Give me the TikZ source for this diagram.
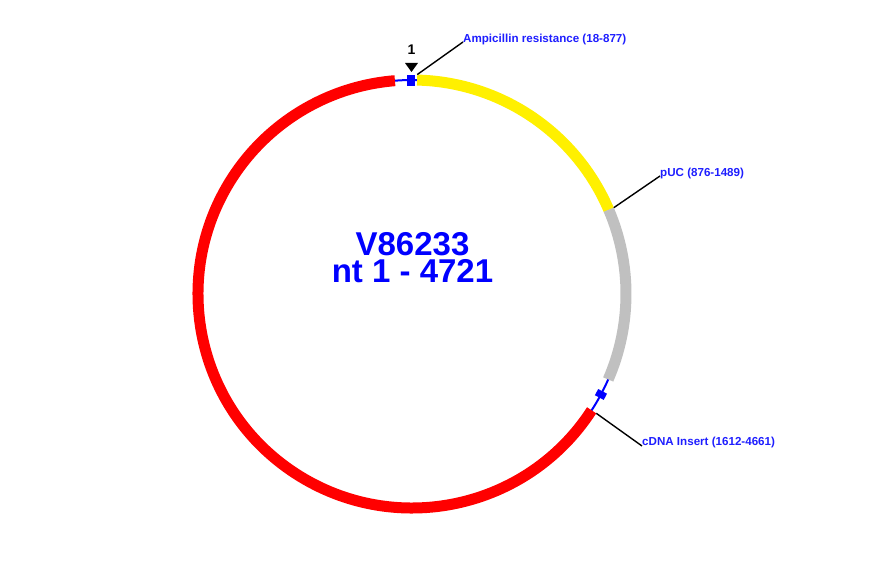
\documentclass[tikz,border=0pt]{standalone}
\usepackage{fontspec}
\setmainfont{Liberation Sans}
\definecolor{ringred}{RGB}{255,0,0}
\definecolor{ringyellow}{RGB}{255,240,0}
\definecolor{ringgray}{RGB}{192,192,192}
\definecolor{featblue}{RGB}{0,0,255}
\definecolor{labelblue}{RGB}{30,30,255}
\begin{document}
\begin{tikzpicture}[x=1pt,y=1pt,
  ringseg/.style={line width=11pt},
  featline/.style={featblue,line width=2pt},
  featmark/.style={fill=featblue,draw=none,minimum width=8pt,minimum height=11pt,inner sep=0pt,rectangle},
  leader/.style={black,line width=1.4pt},
  featlabel/.style={font=\bfseries\fontsize{11.6}{13}\selectfont,text=labelblue,inner sep=0pt,anchor=base west},
  titletext/.style={font=\bfseries\fontsize{33}{27.5}\selectfont,text=featblue,inner sep=0pt,anchor=base,align=center}]
\useasboundingbox (0,0) rectangle (881,562);
\coordinate (c) at (412,268);
\def\R{214}
\def\RL{219.5}
% blue connecting lines
\draw[featline] ([shift={(94.8:\R)}]c) arc[start angle=94.8, end angle=88.4, radius=\R];
\draw[featline] ([shift={(-23.4:\R)}]c) arc[start angle=-23.4, end angle=-33.2, radius=\R];
% ring segments
\draw[ringseg,ringred] ([shift={(-32.92:\R)}]c) arc[start angle=-32.92, end angle=-265.42, radius=\R];
\draw[ringseg,ringyellow] ([shift={(88.63:\R)}]c) arc[start angle=88.63, end angle=23.12, radius=\R];
\draw[ringseg,ringgray] ([shift={(23.2:\R)}]c) arc[start angle=23.2, end angle=-23.54, radius=\R];
% feature marks
\node[featmark] (m1) at ([shift={(90.4:\R)}]c) {};
\node[featmark,minimum width=10pt,minimum height=7pt,rotate=-28] (m2) at ([shift={(-28:\R)}]c) {};
% origin marker
\node[font=\bfseries\fontsize{14}{16}\selectfont,inner sep=0pt,anchor=base] (one) at (411.5,507) {1};
\coordinate (t1) at (405,499);
\coordinate (t2) at (418,499);
\coordinate (t3) at (411.5,490);
\fill[black] (t1) -- (t2) -- (t3) -- cycle;
% labels
\coordinate (ampstart) at ([shift={(88.63:\RL)}]c);
\coordinate (pucstart) at ([shift={(23.16:\RL)}]c);
\coordinate (cdnastart) at ([shift={(-32.92:\RL)}]c);
\node[featlabel] (amp) at (463,519) {Ampicillin resistance (18-877)};
\node[featlabel] (puc) at (660,385) {pUC (876-1489)};
\node[featlabel] (cdna) at (642,116) {cDNA Insert (1612-4661)};
\draw[leader] (ampstart) -- ([yshift=1pt]amp.base west);
\draw[leader] (pucstart) -- ([yshift=1pt]puc.base west);
\draw[leader] (cdnastart) -- ([yshift=0pt]cdna.base west);
% title
\node[titletext] (title) at (412.5,279) {V86233\\nt 1 - 4721};
\end{tikzpicture}
\end{document}
